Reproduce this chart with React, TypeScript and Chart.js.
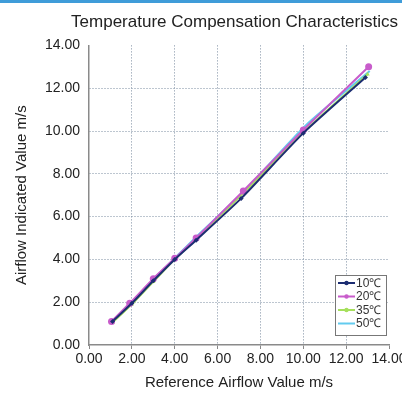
import React, { useEffect, useRef } from "react";
import { Chart, registerables } from "chart.js";

Chart.register(...registerables);

const seriesNames = ["10℃", "20℃", "35℃", "50℃"];
const x10 = [1.1, 2.0, 3.0, 4.0, 5.0, 7.1, 10.0, 12.9];
const y10 = [1.1, 1.95, 3.0, 4.0, 4.9, 6.85, 9.9, 12.5];
const x20 = [1.05, 1.9, 3.0, 4.0, 5.0, 7.2, 10.0, 13.05];
const y20 = [1.1, 1.95, 3.1, 4.05, 5.0, 7.2, 10.05, 13.0];
const x35 = [1.1, 2.0, 3.0, 4.0, 5.0, 7.2, 10.0, 13.0];
const y35 = [1.05, 1.9, 2.95, 4.0, 4.95, 7.1, 9.95, 12.65];
const x50 = [1.1, 2.0, 3.0, 4.0, 5.0, 7.2, 10.1, 13.1];
const y50 = [1.1, 2.0, 3.05, 4.05, 5.05, 7.15, 10.25, 12.8];
const axisMin = 0;
const axisMax = 14;
const axisStep = 2;

const colors = ["#1c2d72", "#c85ccb", "#a6e05c", "#62cbef"];
const pointStyles = ["rectRot", "circle", "triangle", "circle"];
const pointRadii = [2.5, 3.5, 2.5, 0];

const FONT = "'Liberation Sans', Arial, sans-serif";

const toPoints = (xs: number[], ys: number[]) => xs.map((x, i) => ({ x, y: ys[i] }));

const legendPlugin = {
  id: "boxLegend",
  afterDraw(chart: any) {
    const ctx = chart.ctx;
    const bx = 335, by = 275, bw = 51, bh = 60;
    ctx.save();
    ctx.fillStyle = "#ffffff";
    ctx.fillRect(bx, by, bw, bh);
    ctx.strokeStyle = "#777777";
    ctx.lineWidth = 1;
    ctx.strokeRect(bx + 0.5, by + 0.5, bw, bh);
    ctx.font = "12px " + FONT;
    ctx.textBaseline = "middle";
    ctx.textAlign = "left";
    chart.data.datasets.forEach((ds: any, i: number) => {
      const y = by + 8 + i * 13.5;
      ctx.strokeStyle = ds.borderColor;
      ctx.lineWidth = 2;
      ctx.beginPath();
      ctx.moveTo(bx + 3, y);
      ctx.lineTo(bx + 20, y);
      ctx.stroke();
      if (ds.pointRadius > 0) {
        ctx.fillStyle = ds.borderColor;
        ctx.beginPath();
        ctx.arc(bx + 11.5, y, 2.2, 0, Math.PI * 2);
        ctx.fill();
      }
      ctx.fillStyle = "#333333";
      ctx.fillText(ds.label, bx + 21, y + 0.5);
    });
    ctx.restore();
  },
};

const gridColor = (c: any) =>
  c.tick && (c.tick.value === axisMax || c.tick.value === axisMin) ? "rgba(0,0,0,0)" : "#7b8ca0";

export default function App() {
  const ref = useRef<HTMLCanvasElement | null>(null);
  useEffect(() => {
    if (!ref.current) return;
    const xs = [x10, x20, x35, x50];
    const ys = [y10, y20, y35, y50];
    const chart = new Chart(ref.current, {
      type: "line",
      data: {
        datasets: seriesNames.map((name, i) => ({
          label: name,
          data: toPoints(xs[i], ys[i]),
          borderColor: colors[i],
          backgroundColor: colors[i],
          borderWidth: 2,
          pointStyle: pointStyles[i] as any,
          pointRadius: pointRadii[i],
          pointBorderWidth: 0,
          tension: 0.2,
          fill: false,
        })),
      },
      options: {
        animation: false,
        responsive: false,
        maintainAspectRatio: false,
        layout: { padding: { left: 0, right: 4, top: 0, bottom: 0 } },
        plugins: {
          legend: { display: false },
          tooltip: { enabled: false },
          title: {
            display: true,
            text: "Temperature Compensation Characteristics",
            align: "end",
            color: "#222222",
            font: { family: FONT, size: 17, weight: "normal" },
            padding: { top: 12, bottom: 13 },
          },
        },
        scales: {
          x: {
            type: "linear",
            min: axisMin,
            max: axisMax,
            ticks: {
              stepSize: axisStep,
              color: "#222222",
              font: { family: FONT, size: 14 },
              padding: 2,
              maxRotation: 0,
              callback: (v: any) => Number(v).toFixed(2),
            },
            grid: {
              color: gridColor,
              lineWidth: 1,
              tickLength: 4,
              tickColor: "#888888",
              drawTicks: true,
            },
            border: { display: true, color: "#8a8a8a", width: 1.5, dash: [1, 2] },
            title: {
              display: true,
              text: "Reference Airflow Value m/s",
              color: "#222222",
              font: { family: FONT, size: 15 },
              padding: { top: 0, bottom: 2 },
            },
            afterFit: (s: any) => {
              s.height = 49;
              s.paddingLeft = 0;
              s.paddingRight = 0;
            },
          },
          y: {
            type: "linear",
            min: axisMin,
            max: axisMax,
            ticks: {
              stepSize: axisStep,
              color: "#222222",
              font: { family: FONT, size: 14 },
              padding: 9,
              callback: (v: any) => Number(v).toFixed(2),
            },
            grid: {
              color: gridColor,
              lineWidth: 1,
              drawTicks: false,
            },
            border: { display: true, color: "#8a8a8a", width: 1.5, dash: [1, 2] },
            title: {
              display: true,
              text: "Airflow Indicated Value m/s",
              color: "#222222",
              font: { family: FONT, size: 15 },
              padding: { top: 13, bottom: 0 },
            },
            afterFit: (s: any) => {
              s.width = 89;
              s.paddingTop = 0;
              s.paddingBottom = 0;
            },
          },
          yRight: {
            type: "linear",
            position: "right",
            display: true,
            min: axisMin,
            max: axisMax,
            ticks: { display: false },
            grid: { display: false, drawTicks: false },
            border: { display: false },
            afterFit: (s: any) => {
              s.width = 9;
              s.paddingTop = 0;
              s.paddingBottom = 0;
            },
          },
        },
      },
      plugins: [legendPlugin],
    } as any);
    return () => chart.destroy();
  }, []);

  return (
    <div style={{ position: "absolute", left: 0, top: 0, width: 402, height: 394, background: "#ffffff" }}>
      <canvas ref={ref} width={402} height={394} style={{ display: "block", width: 402, height: 394 }} />
      <div style={{ position: "absolute", left: 0, top: 0, width: 402, height: 3, background: "#3f9cd9" }} />
    </div>
  );
}
